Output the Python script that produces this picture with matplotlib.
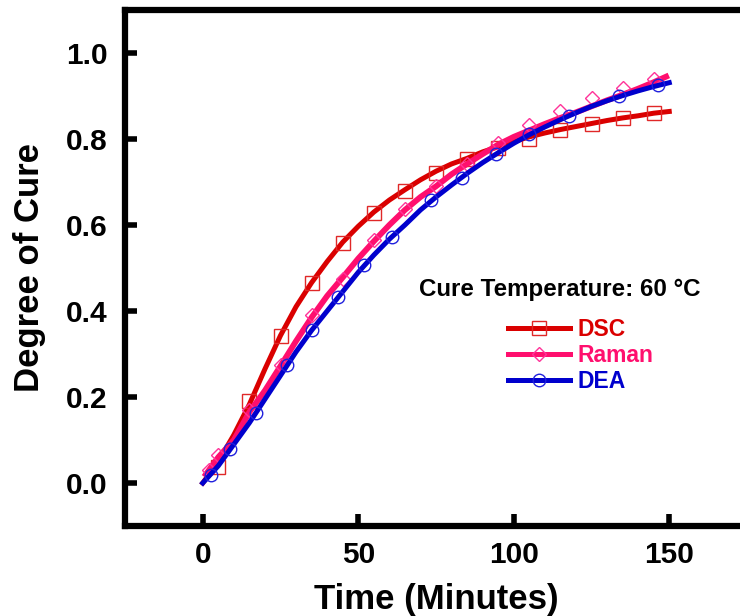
import matplotlib.pyplot as plt
from matplotlib.lines import Line2D

plt.rcParams['font.family'] = ['Liberation Sans', 'DejaVu Sans']
plt.rcParams['font.weight'] = 'bold'

# curvas (linhas)
t_fit = [0, 5, 10, 15, 20, 25, 30, 35, 40, 45, 50, 55, 60, 65, 70, 75, 80, 85,
         90, 95, 100, 105, 110, 115, 120, 125, 130, 135, 140, 145, 150]
dsc_fit = [0.0, 0.05, 0.112, 0.183, 0.265, 0.343, 0.41, 0.466, 0.515, 0.56, 0.597,
           0.63, 0.658, 0.682, 0.705, 0.725, 0.742, 0.755, 0.77, 0.782, 0.794,
           0.805, 0.814, 0.822, 0.829, 0.836, 0.843, 0.849, 0.854, 0.86, 0.864]
dea_fit = [0.0, 0.04, 0.09, 0.14, 0.195, 0.25, 0.305, 0.355, 0.40, 0.445, 0.49,
           0.53, 0.567, 0.60, 0.635, 0.665, 0.693, 0.72, 0.745, 0.768, 0.79,
           0.81, 0.828, 0.845, 0.861, 0.876, 0.889, 0.901, 0.912, 0.922, 0.931]

t_raman = [1, 5, 10, 15, 20, 25, 30, 35, 40, 45, 50, 55, 60, 65, 70, 75, 80, 85,
           90, 95, 100, 105, 110, 115, 120, 125, 130, 135, 140, 145, 149]
raman = [0.02, 0.06, 0.10, 0.165, 0.215, 0.272, 0.33, 0.385, 0.435, 0.478, 0.522,
         0.562, 0.60, 0.635, 0.665, 0.69, 0.718, 0.742, 0.765, 0.787, 0.805,
         0.82, 0.835, 0.849, 0.862, 0.876, 0.89, 0.903, 0.917, 0.932, 0.945]

# pontos medidos (marcadores)
t_dsc_pts = [5, 15, 25, 35, 45, 55, 65, 75, 85, 95, 105, 115, 125, 135, 145]
dsc_pts = [0.037, 0.19, 0.343, 0.466, 0.559, 0.629, 0.678, 0.722, 0.754, 0.78,
           0.80, 0.821, 0.835, 0.849, 0.86]

t_raman_pts = [2, 5, 15, 25, 35, 45, 55, 65, 75, 85, 95, 105, 115, 125, 135, 145]
raman_pts = [0.03, 0.065, 0.17, 0.274, 0.39, 0.475, 0.564, 0.638, 0.69, 0.742,
             0.791, 0.833, 0.865, 0.896, 0.918, 0.94]

t_dea_pts = [2.6, 8.7, 17, 27, 35, 43.4, 51.8, 61, 73.3, 83.3, 94.2, 105, 117.7,
             134, 146.3]
dea_pts = [0.019, 0.079, 0.162, 0.274, 0.355, 0.432, 0.506, 0.573, 0.657, 0.71,
           0.766, 0.812, 0.854, 0.9, 0.926]

red = '#DA0000'
pink = '#FF0F6E'
blue = '#0000CD'

fig = plt.figure(figsize=(7.4, 6.16), dpi=100)
ax = fig.add_axes([125 / 740, 90 / 616, 622 / 740, 516 / 616])

ax.plot(t_fit, dsc_fit, color=red, lw=3.6, zorder=3)
ax.plot(t_dsc_pts, dsc_pts, ls='none', marker='s', ms=10, mfc='none',
        mec='#E02828', mew=1.0, zorder=3)

ax.plot(t_raman, raman, color=pink, lw=4.2, zorder=4)
ax.plot(t_raman_pts, raman_pts, ls='none', marker='D', ms=7.5, mfc='none',
        mec='#FF3399', mew=1.0, zorder=4)

ax.plot(t_fit, dea_fit, color=blue, lw=3.6, zorder=5)
ax.plot(t_dea_pts, dea_pts, ls='none', marker='o', ms=9, mfc='none',
        mec='#2020DD', mew=1.0, zorder=5)

ax.set_xlim(-25, 175)
ax.set_ylim(-0.1, 1.1)
ax.set_xticks([0, 50, 100, 150])
ax.set_yticks([0.0, 0.2, 0.4, 0.6, 0.8, 1.0])
ax.set_yticklabels(['0.0', '0.2', '0.4', '0.6', '0.8', '1.0'])
ax.tick_params(direction='in', length=8.5, width=4, labelsize=21.5)
ax.tick_params(axis='x', pad=11)
ax.tick_params(axis='y', pad=12.5)
for s in ax.spines.values():
    s.set_linewidth(4.5)

ax.set_xlabel('Time (Minutes)', fontsize=25, fontweight='bold', labelpad=10)
ax.set_ylabel('Degree of Cure', fontsize=25, fontweight='bold', labelpad=14)

ax.text(69.5, 0.45, 'Cure Temperature: 60 °C', fontsize=17.4, fontweight='bold',
        ha='left', va='center')

handles = [
    Line2D([], [], color=red, lw=3.6, marker='s', ms=10, mfc='none', mec='#E02828', mew=1.0),
    Line2D([], [], color=pink, lw=3.6, marker='D', ms=7.5, mfc='none', mec='#FF3399', mew=1.0),
    Line2D([], [], color=blue, lw=3.6, marker='o', ms=9, mfc='none', mec='#2020DD', mew=1.0),
]
ax.legend(handles, ['DSC', 'Raman', 'DEA'], loc='center left',
          bbox_to_anchor=(98.3, 0.296), bbox_transform=ax.transData,
          frameon=False, labelcolor='linecolor',
          handlelength=2.7, handletextpad=0.3, labelspacing=0.13,
          borderpad=0, borderaxespad=0, numpoints=1,
          prop={'weight': 'bold', 'size': 16.5})

fig.savefig('out.png', dpi=100)
